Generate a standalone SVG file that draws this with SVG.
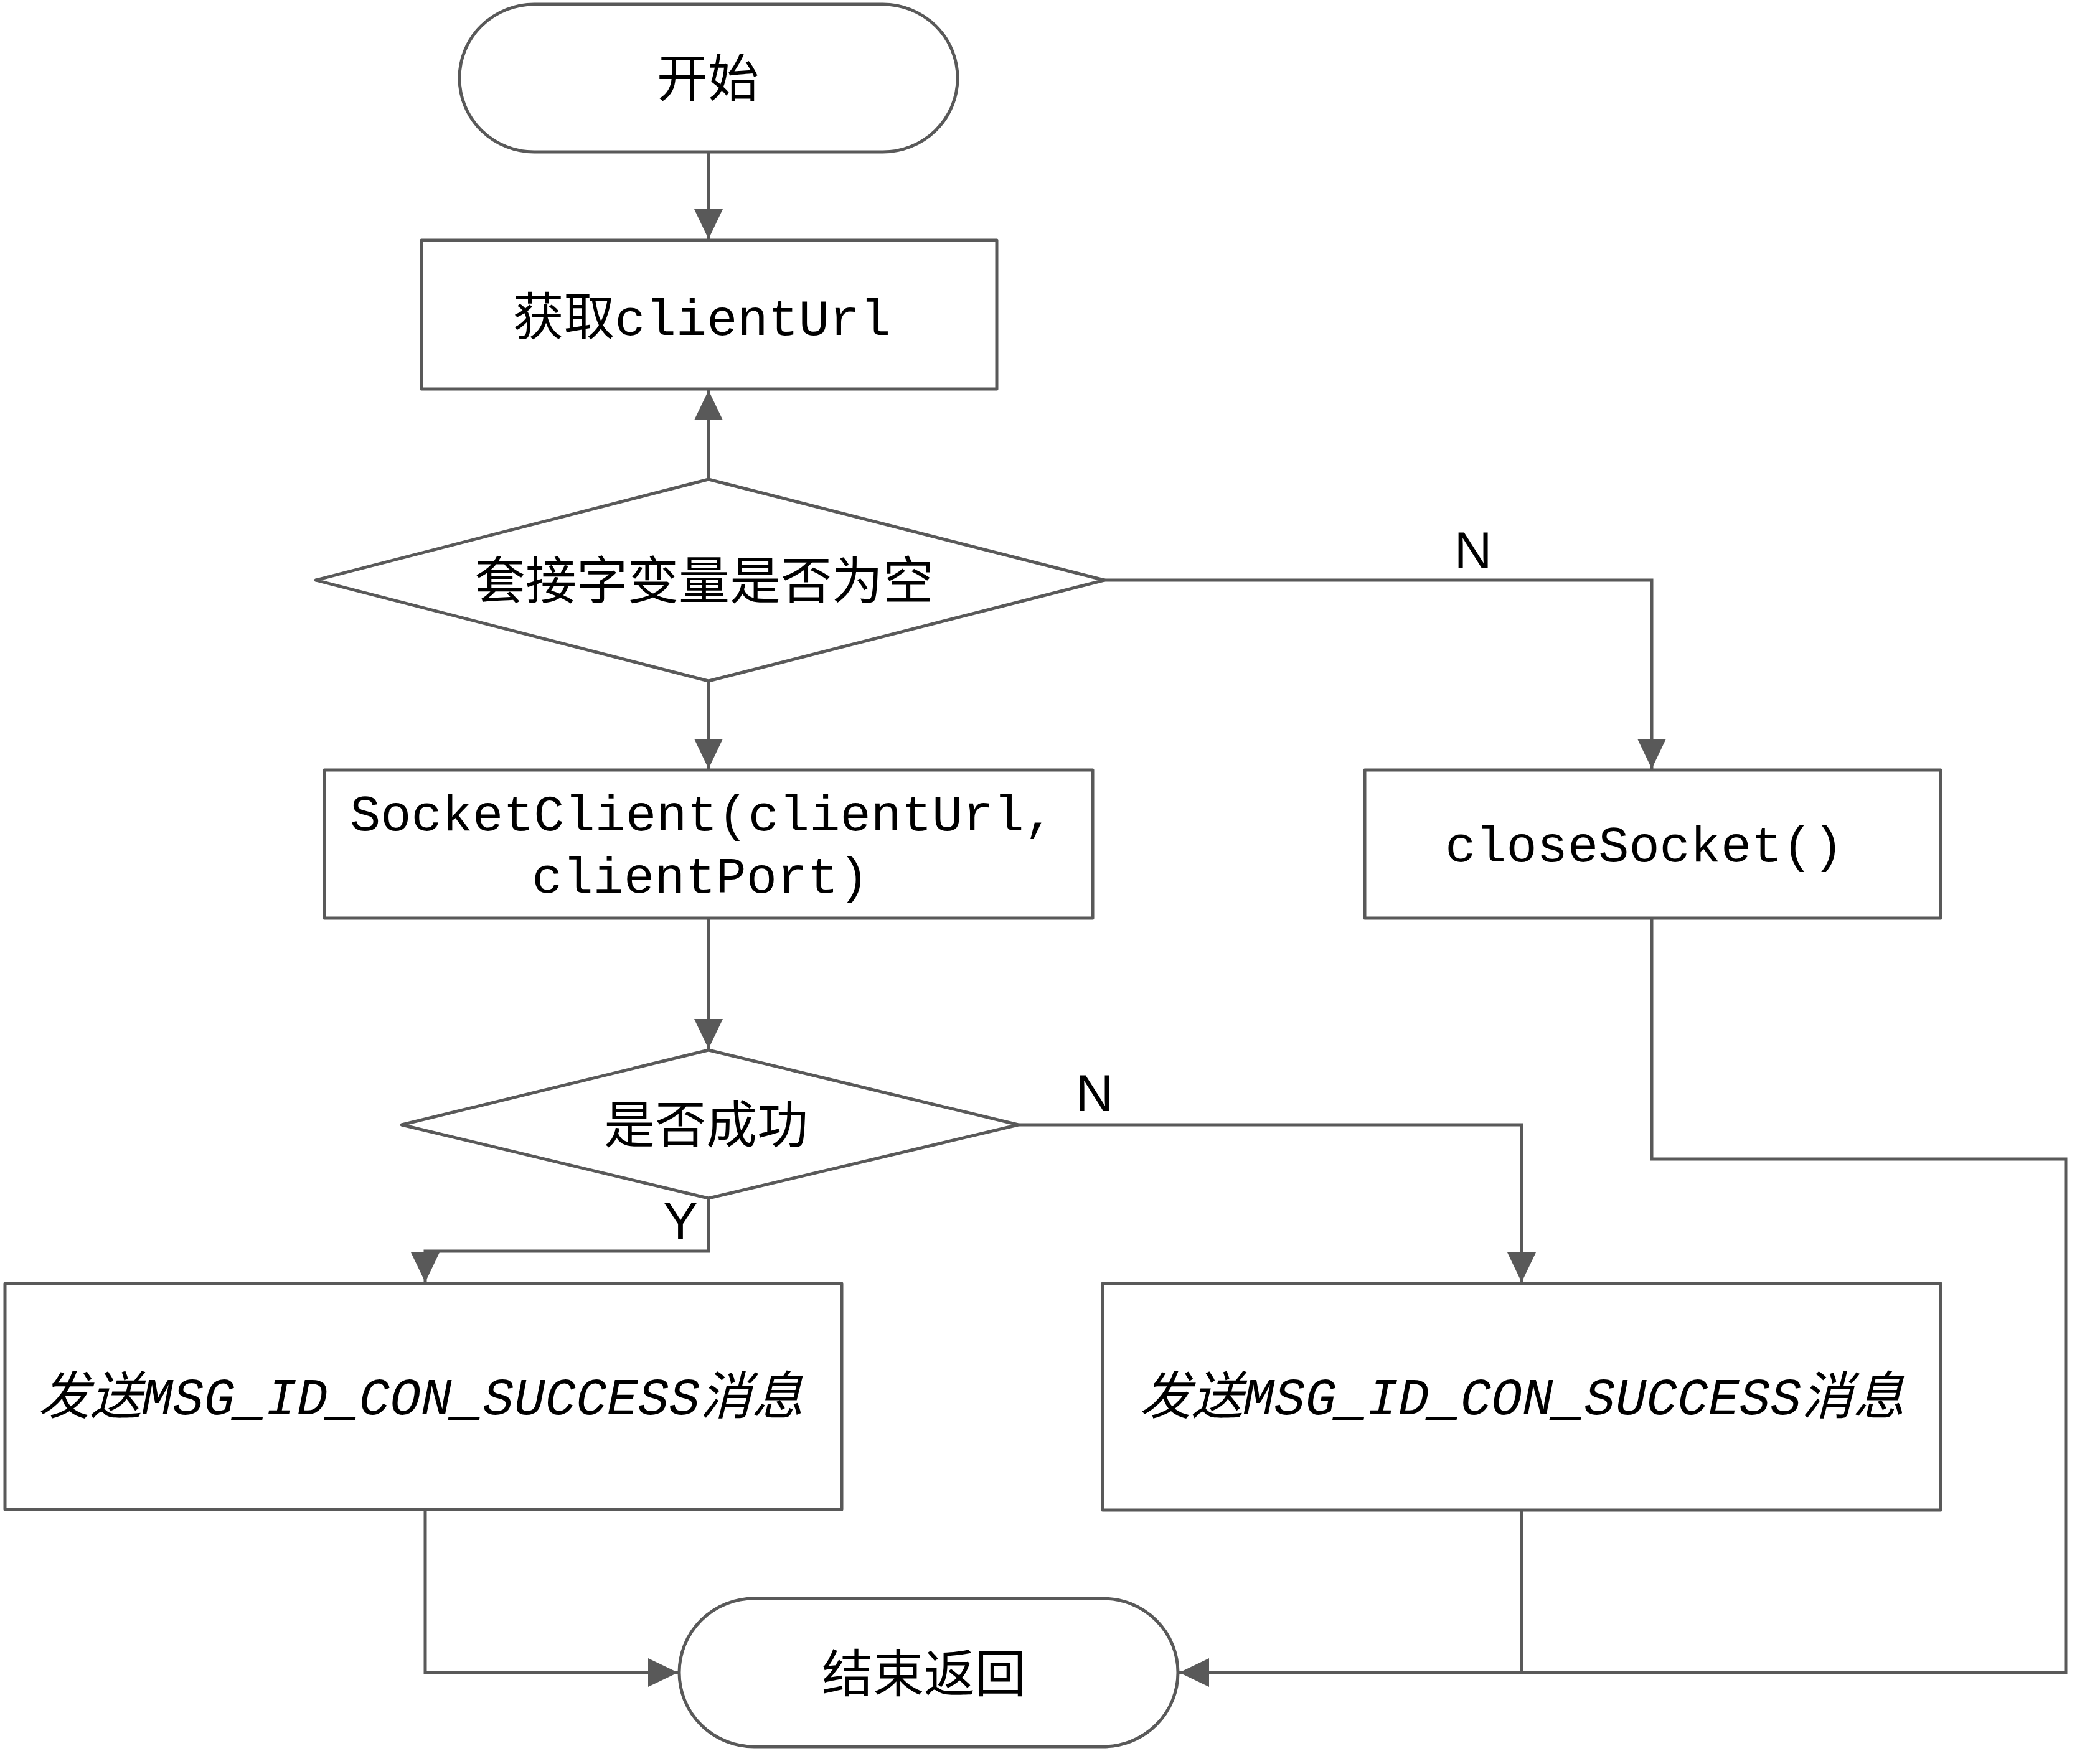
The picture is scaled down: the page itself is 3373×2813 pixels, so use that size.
<svg xmlns="http://www.w3.org/2000/svg" width="3373" height="2813" viewBox="0 0 3373 2813">
<style>
.shape{fill:#fff;stroke:#595959;stroke-width:5;stroke-linejoin:round}
.conn{fill:none;stroke:#595959;stroke-width:5}
.t{font-family:"Liberation Mono","Noto Sans CJK SC",monospace;font-size:82px;fill:#000;text-anchor:middle;dominant-baseline:central}
.ti{font-family:"Liberation Mono","Noto Sans CJK SC",monospace;font-size:83px;font-style:italic;fill:#000;text-anchor:middle;dominant-baseline:central}
.lbl{font-family:"Liberation Sans",Arial,sans-serif;font-size:84px;fill:#000;text-anchor:middle}
</style>
<defs>
<marker id="arr" markerUnits="userSpaceOnUse" markerWidth="50" markerHeight="48" refX="48" refY="23" orient="auto">
<path d="M0,0 L48,23 L0,46 z" fill="#595959"/>
</marker>
</defs>
<rect width="3373" height="2813" fill="#fff"/>
<g id="connectors">
<path class="conn" d="M1138,244 V384" marker-end="url(#arr)"/>
<path class="conn" d="M1138,770 V627" marker-end="url(#arr)"/>
<path class="conn" d="M1774,932 H2653 V1235" marker-end="url(#arr)"/>
<path class="conn" d="M1138,1094 V1235" marker-end="url(#arr)"/>
<path class="conn" d="M1138,1475 V1685" marker-end="url(#arr)"/>
<path class="conn" d="M1138,1925 V2010 H683 V2060" marker-end="url(#arr)"/>
<path class="conn" d="M1636,1807 H2444 V2060" marker-end="url(#arr)"/>
<path class="conn" d="M683,2425 V2687 H1089" marker-end="url(#arr)"/>
<path class="conn" d="M2444,2426 V2687"/>
<path class="conn" d="M2653,1475 V1862 H3318 V2687 H1894" marker-end="url(#arr)"/>
<text class="lbl" x="2366" y="913">N</text>
<text class="lbl" x="1758" y="1785">N</text>
<text class="lbl" x="1093" y="1990">Y</text>
</g>
<g id="start">
<rect class="shape" x="738" y="7" width="800" height="237" rx="120" ry="118"/>
<text class="t" x="1137" y="133">开始</text>
</g>
<g id="getUrl">
<rect class="shape" x="677" y="386" width="924" height="239"/>
<text class="t" x="1127" y="516">获取clientUrl</text>
</g>
<g id="check1">
<polygon class="shape" points="507,932 1138,770 1774,932 1138,1094"/>
<text class="t" x="1131" y="940">套接字变量是否为空</text>
</g>
<g id="socketClient">
<rect class="shape" x="521" y="1237" width="1234" height="238"/>
<text class="t" x="1128" y="1312">SocketClient(clientUrl,</text>
<text class="t" x="1125" y="1412">clientPort)</text>
</g>
<g id="closeSocket">
<rect class="shape" x="2192" y="1237" width="925" height="238"/>
<text class="t" x="2641" y="1362">closeSocket()</text>
</g>
<g id="check2">
<polygon class="shape" points="645,1807 1138,1687 1636,1807 1138,1925"/>
<text class="t" x="1134" y="1814">是否成功</text>
</g>
<g id="sendLeft">
<rect class="shape" x="8" y="2062" width="1344" height="363"/>
<text class="ti" x="676" y="2250">发送MSG_ID_CON_SUCCESS消息</text>
</g>
<g id="sendRight">
<rect class="shape" x="1771" y="2062" width="1346" height="364"/>
<text class="ti" x="2445" y="2250">发送MSG_ID_CON_SUCCESS消息</text>
</g>
<g id="end">
<rect class="shape" x="1091" y="2568" width="801" height="238" rx="120" ry="119"/>
<text class="t" x="1484" y="2696">结束返回</text>
</g>
</svg>
